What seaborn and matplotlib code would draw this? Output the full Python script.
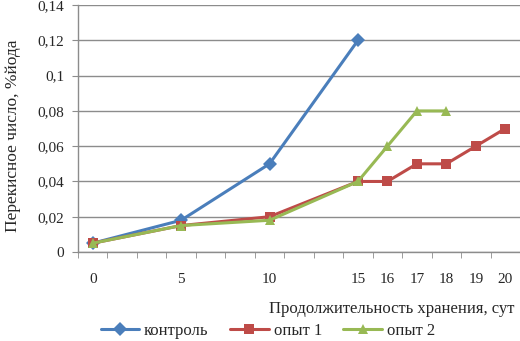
import numpy as np
import pandas as pd
import matplotlib
matplotlib.use('Agg')
import matplotlib.pyplot as plt
from matplotlib.ticker import FuncFormatter, MultipleLocator
import seaborn as sns

# Category axis as in the original (blank labels between 0, 5, 10, 15)
categories = ['0', '', '', '5', '', '', '10', '', '', '15', '16', '17', '18', '19', '20']
kontrol = [0.005, None, None, 0.018, None, None, 0.05, None, None, 0.12,
           None, None, None, None, None]
opyt1 = [0.005, None, None, 0.015, None, None, 0.02, None, None, 0.04,
         0.04, 0.05, 0.05, 0.06, 0.07]
opyt2 = [0.005, None, None, 0.015, None, None, 0.018, None, None, 0.04,
         0.06, 0.08, 0.08, None, None]
series_names = ['контроль', 'опыт 1', 'опыт 2']

sns.set_style('white')
plt.rcParams['font.family'] = ['Liberation Serif', 'DejaVu Serif']

rows = []
for name, vals in zip(series_names, [kontrol, opyt1, opyt2]):
    for i, v in enumerate(vals):
        if v is not None:
            rows.append({'pos': i, 'value': v, 'series': name})
df = pd.DataFrame(rows)

palette = {'контроль': '#4A7EBB', 'опыт 1': '#BE4B48', 'опыт 2': '#98B954'}
markers = {'контроль': 'D', 'опыт 1': 's', 'опыт 2': '^'}

fig = plt.figure(figsize=(5.2, 3.41), dpi=100)
ax = fig.add_axes([0.15, 0.261, 0.85, 0.724])

sns.lineplot(data=df, x='pos', y='value', hue='series', style='series',
             palette=palette, markers=markers, dashes=False, linewidth=2.2,
             markersize=7, markeredgewidth=0, ax=ax, legend=True)

ax.set_xlim(-0.5, len(categories) - 0.5)
ax.set_ylim(0, 0.14)
ax.yaxis.set_major_locator(MultipleLocator(0.02))
ax.yaxis.set_major_formatter(FuncFormatter(
    lambda v, p: '0' if abs(v) < 1e-9 else ('%g' % round(v, 2)).replace('.', ',')))
ax.grid(axis='y', color='#8c8c8c', linewidth=1)
ax.set_axisbelow(True)

ax.set_xticks(np.arange(len(categories)))
ax.set_xticklabels(categories)
ax.set_xticks(np.arange(len(categories) + 1) - 0.5, minor=True)
ax.tick_params(axis='x', which='major', length=0, pad=15, labelsize=11)
ax.tick_params(axis='x', which='minor', length=4, color='#8c8c8c', direction='out', bottom=True)
ax.tick_params(axis='y', length=4, color='#8c8c8c', direction='out', left=True, labelsize=11, pad=6)

for s in ['top', 'right']:
    ax.spines[s].set_visible(False)
for s in ['left', 'bottom']:
    ax.spines[s].set_color('#8c8c8c')
    ax.spines[s].set_linewidth(1)

ax.set_xlabel('')
ax.set_ylabel('Перекисное число, %йода', fontsize=12.5)
ax.yaxis.set_label_coords(-0.128, 0.47)
fig.text(0.99, 0.095, 'Продолжительность хранения, сут', ha='right', va='center', fontsize=12)

handles, labels = ax.get_legend_handles_labels()
ax.legend_.remove()
fig.legend(handles, labels, loc='center', bbox_to_anchor=(0.515, 0.03), ncol=3,
           frameon=False, fontsize=12, handlelength=2.3, columnspacing=1.3,
           handletextpad=0.3)

fig.savefig('out.png', dpi=100)
